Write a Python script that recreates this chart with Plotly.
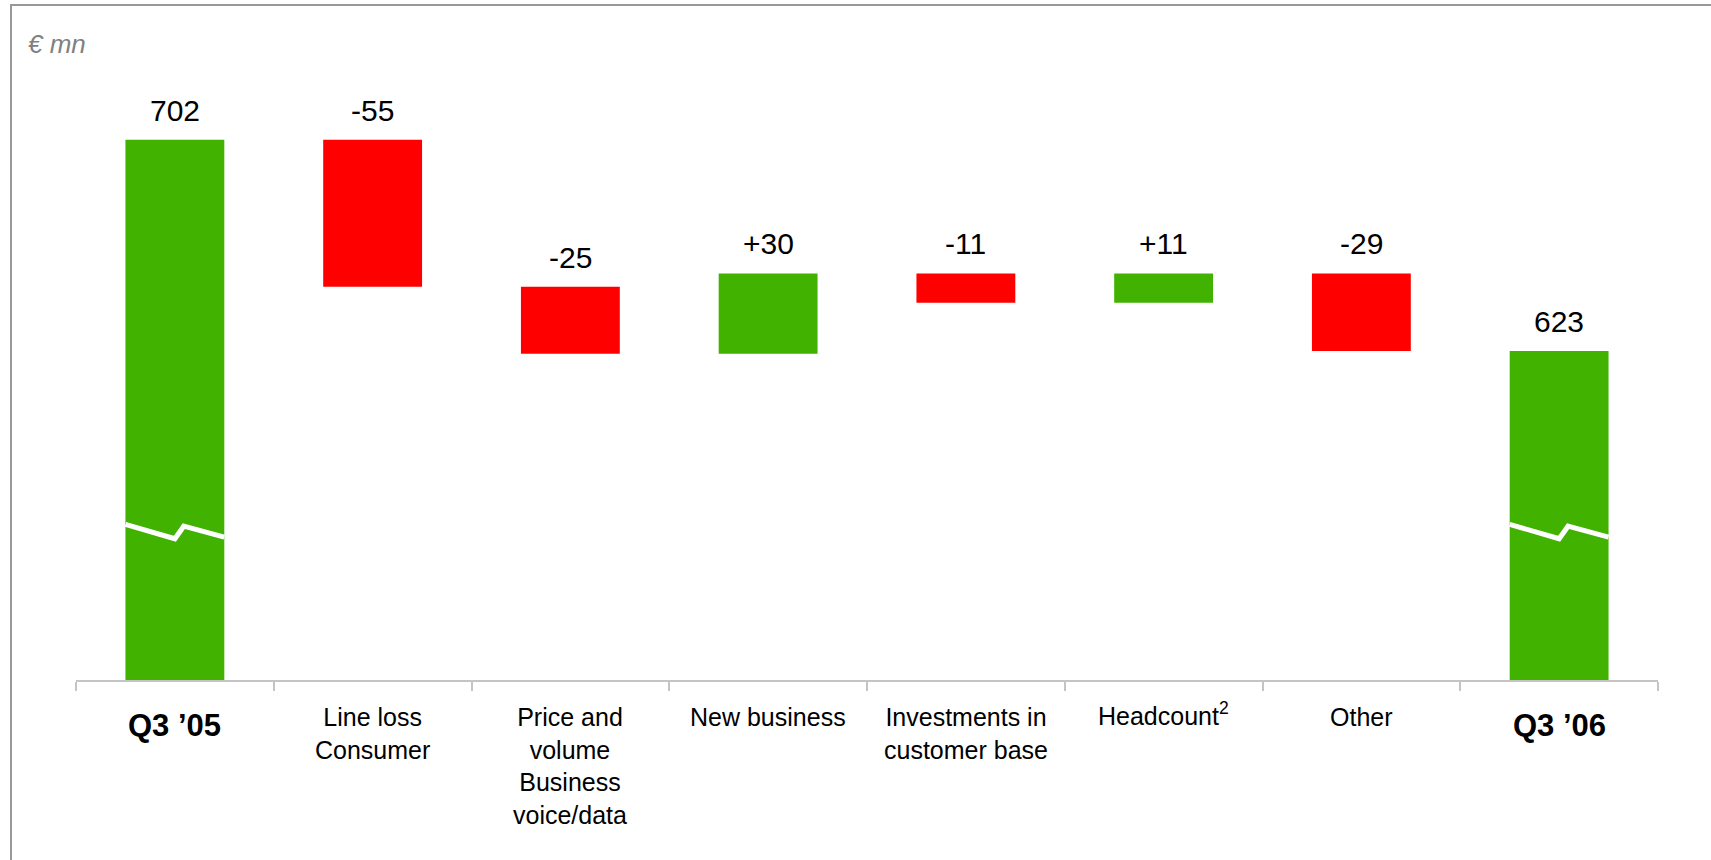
import plotly.graph_objects as go

# ---- data ----
categories = ["Q3 '05", "Line loss Consumer", "Price and volume Business voice/data",
              "New business", "Investments in customer base", "Headcount", "Other", "Q3 '06"]
tick_labels = ["<b>Q3 ’05</b>", "Line loss<br>Consumer", "Price and<br>volume<br>Business<br>voice/data",
               "New business", "Investments in<br>customer base", "Headcount<sup>2</sup>", "Other", "<b>Q3 ’06</b>"]
start_value = 702
changes = [-55, -25, 30, -11, 11, -29]
end_value = 623
unit_label = "€ mn"

values = [start_value] + changes + [end_value]
measures = ["absolute"] + ["relative"] * len(changes) + ["total"]

# ---- styles / layout constants ----
GREEN = "#41b200"
RED = "#ff0000"
FONT = "Arial, Liberation Sans, sans-serif"
W, H = 1711, 860
ML, MR, MT, MB = 76, 53, 80, 180
PLOT_W = W - ML - MR
PLOT_H = H - MT - MB
Y_MIN = 500
PX_PER_UNIT = 2.675
Y_MAX = Y_MIN + PLOT_H / PX_PER_UNIT
BAR_W = 0.5

fig = go.Figure()
fig.add_trace(go.Waterfall(
    x=categories, y=values, measure=measures,
    increasing=dict(marker=dict(color=GREEN)),
    decreasing=dict(marker=dict(color=RED)),
    totals=dict(marker=dict(color=GREEN)),
    connector=dict(visible=False),
    textinfo="none", hoverinfo="skip",
))

# bar tops (for labels) computed from the data
tops = []
running = 0
for v, m in zip(values, measures):
    if m == "absolute":
        running = v
        tops.append(v)
    elif m == "total":
        tops.append(running)
    else:
        tops.append(max(running, running + v))
        running += v

for i, (v, m) in enumerate(zip(values, measures)):
    txt = str(running if m == "total" else v) if m != "relative" else f"{v:+d}"
    fig.add_annotation(x=categories[i], y=tops[i], xref="x", yref="y",
                       text=txt, showarrow=False, yanchor="bottom", yshift=11,
                       font=dict(family=FONT, size=30, color="black"))

# category labels
for i, lab in enumerate(tick_labels):
    bold = lab.startswith("<b>")
    if bold:
        shift = -26
    elif "<sup>" in lab:
        shift = -16
    else:
        shift = -21
    fig.add_annotation(x=categories[i], y=0, xref="x", yref="paper",
                       text=lab, showarrow=False, yanchor="top", xanchor="center",
                       align="center", yshift=shift,
                       font=dict(family=FONT, size=31 if bold else 25, color="black"))

# axis-break markers on the absolute/total bars
BREAK = 555.5
for i, m in enumerate(measures):
    if m in ("absolute", "total"):
        fig.add_trace(go.Scatter(
            x=[i - BAR_W / 2, i, i + 0.045, i + BAR_W / 2],
            y=[BREAK + 2.7, BREAK - 2.7, BREAK + 2.0, BREAK - 2.1],
            mode="lines", line=dict(color="white", width=5),
            hoverinfo="skip", showlegend=False, xaxis="x2"))

# unit label
fig.add_annotation(x=(26 - ML) / PLOT_W, y=(MT + PLOT_H - 27) / PLOT_H, xref="paper", yref="paper",
                   text=unit_label, showarrow=False, xanchor="left", yanchor="top",
                   font=dict(family=FONT, size=26, color="#808080", style="italic"))

# frame
fig.add_shape(type="rect", xref="paper", yref="paper",
              x0=(11 - ML) / PLOT_W, x1=(W + 20 - ML) / PLOT_W,
              y0=(MT + PLOT_H - (H + 20)) / PLOT_H, y1=(MT + PLOT_H - 5) / PLOT_H,
              line=dict(color="#999999", width=2))

fig.update_layout(
    width=W, height=H,
    margin=dict(l=ML, r=MR, t=MT, b=MB),
    paper_bgcolor="white", plot_bgcolor="white",
    showlegend=False,
    waterfallgap=1 - BAR_W,
    xaxis=dict(type="category", range=[-0.5, len(categories) - 0.5],
               showline=True, linecolor="#c4c4c4", linewidth=2,
               ticks="outside", tickson="boundaries", ticklen=9, tickcolor="#c4c4c4", tickwidth=2,
               showticklabels=False, showgrid=False, zeroline=False, fixedrange=True),
    xaxis2=dict(range=[-0.5, len(categories) - 0.5], overlaying="x", visible=False, fixedrange=True),
    yaxis=dict(range=[Y_MIN, Y_MAX], visible=False, showgrid=False, zeroline=False, fixedrange=True),
)

fig.write_html("out.html")
